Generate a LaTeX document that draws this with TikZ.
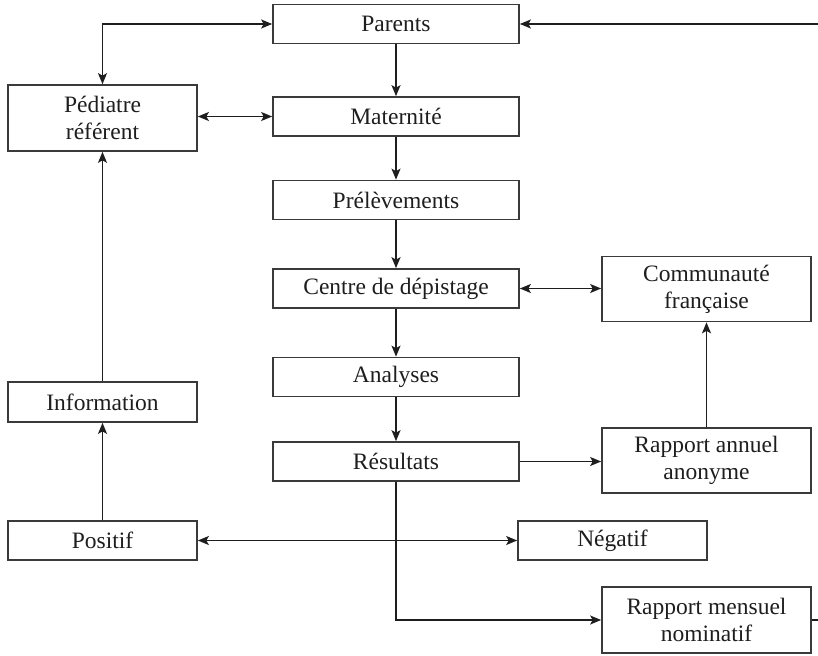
\documentclass[tikz,border=0pt]{standalone}
\usepackage{fontspec}
\setmainfont{Liberation Serif}
\usetikzlibrary{arrows.meta}
\definecolor{ink}{HTML}{1E1E1E}
\definecolor{edge}{HTML}{3A3A3A}
\begin{document}
\begin{tikzpicture}[x=1pt,y=-1pt,
  box/.style={draw=edge,line width=1.7pt,fill=white,text=ink,align=center,
    inner sep=0pt,font=\fontsize{23.5}{27}\selectfont},
  midbox/.style={box,minimum width=246pt,minimum height=39pt},
  sidebox/.style={box,minimum width=189pt,minimum height=39pt},
  rightbox/.style={box,minimum width=209pt,minimum height=65pt},
  link/.style={draw=ink,line width=1.5pt},
  tip/.style={-{Stealth[length=11pt,width=9pt,inset=2.5pt]}},
  tips/.style={{Stealth[length=11pt,width=9pt,inset=2.5pt]}-{Stealth[length=11pt,width=9pt,inset=2.5pt]}}]
\useasboundingbox (0,0) rectangle (818,655);

% central chain
\node[midbox] (parents) at (396,24) {Parents};
\node[midbox] (mat) at (396,116.5) {Maternité};
\node[midbox] (prel) at (396,200) {Prélèvements};
\node[midbox] (centre) at (396,288.5) {Centre de dépistage};
\node[midbox] (analyses) at (396,377) {Analyses};
\node[midbox] (res) at (396,461.5) {Résultats};

% left column
\node[sidebox,minimum height=66pt] (ped) at (102.5,118) {Pédiatre\\référent};
\node[sidebox,minimum height=40pt] (info) at (102.5,402) {Information};
\node[sidebox] (pos) at (102.5,540.5) {Positif};

% right column
\node[sidebox] (neg) at (612.5,540.5) {Négatif};
\node[rightbox] (comm) at (706.5,289) {Communauté\\française};
\node[rightbox] (annuel) at (706.5,460.5) {Rapport annuel\\anonyme};
\node[rightbox,minimum height=66pt] (mensuel) at (706.5,620) {Rapport mensuel\\nominatif};

% return path from the monthly report to the parents
\coordinate (loopbot) at (832,620);
\coordinate (looptop) at (832,24);

% connectors
\draw[link,tip] (parents) -- (mat);
\draw[link,tip] (mat) -- (prel);
\draw[link,tip] (prel) -- (centre);
\draw[link,tip] (centre) -- (analyses);
\draw[link,tip] (analyses) -- (res);
\draw[link,tips] (ped.north) |- (parents.west);
\draw[link,tips] (ped.east |- mat) -- (mat.west);
\draw[link,tips] (centre.east) -- (comm.west |- centre.east);
\draw[link,tip] (res.east) -- (annuel.west |- res.east);
\draw[link,tip] (annuel.north) -- (comm.south);
\draw[link,tip] (info) -- (ped);
\draw[link,tip] (pos) -- (info);
\draw[link,tips] (pos) -- (neg);
\draw[link,tip] (res.south) |- (mensuel.west);
\draw[link,tip] (mensuel.east) -- (loopbot) -- (looptop) -- (parents.east);
\end{tikzpicture}
\end{document}
